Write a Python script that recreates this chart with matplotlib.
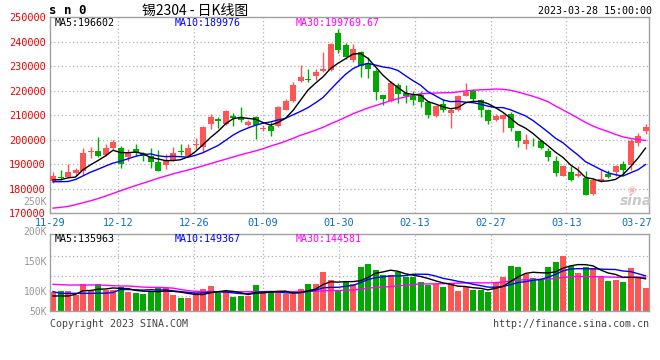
import numpy as np
import matplotlib
matplotlib.use('Agg')
import matplotlib.pyplot as plt
from matplotlib.transforms import blended_transform_factory, offset_copy

# ---------------- data ----------------
tick_idx = [0, 9, 19, 28, 38, 48, 58, 68, 78]
tick_labels = ['11-29', '12-12', '12-26', '01-09', '01-30', '02-13', '02-27', '03-13', '03-27']

opens = [182900, 184700, 184800, 186200, 187200, 194900, 195300, 193800, 196500, 196500,
         193000, 196100, 194500, 193400, 190700, 189600, 191500, 195400, 193200, 197700,
         196900, 206500, 208500, 206600, 209850, 209000, 206150, 209300, 204540, 205760,
         205760, 212310, 215860, 224040, 225000, 226090, 228130, 228540, 243820, 238640,
         232630, 236040, 231540, 228130, 218180, 215860, 222270, 219000, 217900, 218150,
         215430, 209560, 214470, 210930, 211950, 217880, 219790, 216110, 212020, 207990,
         208330, 210380, 203560, 198240, 199100, 199290, 195540, 191380, 185300, 186870,
         184970, 184420, 177870, 182920, 186060, 186600, 190080, 189740, 198600, 203380]
closes = [184990, 184400, 186900, 187450, 194670, 195100, 193240, 196450, 198900, 190030,
          194600, 194670, 193300, 190850, 187170, 191230, 194700, 194988, 196760, 198125,
          205082, 209450, 207673, 211902, 208764, 207880, 207264, 206173, 204946, 203445,
          213402, 215790, 222200, 225814, 224314, 227590, 228750, 238980, 236660, 233720,
          236930, 230110, 228880, 219470, 216470, 223150, 218720, 217700, 216250, 215430,
          209970, 213650, 211950, 212290, 217880, 219650, 216520, 212020, 207650, 209700,
          209970, 204650, 199470, 199750, 198880, 196560, 192740, 186470, 189060, 183600,
          186060, 177460, 183600, 184010, 184560, 189060, 187420, 199630, 201610, 205020]
highs = [186600, 187500, 190000, 188600, 196500, 197200, 201000, 198200, 199800, 197500,
         196100, 198400, 194800, 196500, 195700, 194100, 197000, 198400, 198400, 200700,
         205500, 210700, 209200, 212300, 210950, 213400, 208200, 209850, 206170, 207130,
         213950, 216680, 223630, 230450, 229090, 229090, 235900, 239450, 245180, 239450,
         239050, 236320, 233860, 228810, 218180, 224040, 223360, 222270, 220040, 219800,
         215770, 214060, 216650, 212770, 218360, 223200, 220610, 216520, 212430, 210380,
         210380, 211400, 203560, 202200, 200700, 200035, 196600, 193490, 189800, 189120,
         189120, 187080, 184350, 188030, 187760, 189800, 191170, 200300, 202760, 206450]
lows = [182200, 183600, 184500, 185200, 185600, 192700, 193000, 193400, 196100, 188600,
        191100, 193400, 191400, 188600, 187000, 187900, 191200, 193900, 192900, 196200,
        194800, 204500, 204800, 206200, 205500, 207100, 205500, 200450, 203450, 201670,
        205220, 212310, 215450, 223630, 223630, 224450, 227720, 228130, 235360, 233180,
        231820, 225810, 225400, 216270, 214080, 215450, 215180, 215180, 214180, 213300,
        209010, 209150, 211200, 204920, 211630, 217750, 215430, 209360, 206290, 207650,
        203150, 203560, 197010, 196330, 197600, 196216, 191440, 185300, 185030, 182980,
        184760, 177250, 177530, 182580, 184350, 185030, 186120, 187700, 197300, 202490]

# moving averages: first values, the rest from the closes
ma5_head = [183600, 183600, 184400, 184700]
ma10_head = [182800, 182800, 182900, 183700, 185200, 186700, 187900, 189200, 190400]
ma30_head = [172000, 172300, 172700, 173400, 174200, 175000, 175900, 176900, 178000, 179100,
             180200, 181200, 182200, 183200, 184200, 185100, 186000, 186800, 187600, 188400,
             189300, 190200, 191100, 192000, 192900, 193800, 194600, 195400, 196300]

# volume (thousands, on the panel's label scale)
vol_k = [98.9, 100, 100, 93, 111, 100, 111, 101.7, 101.7, 107,
         98.9, 96, 95, 100, 104.4, 104.4, 93.3, 88.9, 88.9, 96,
         103.3, 108.3, 97.2, 97.8, 90.6, 92.2, 92.2, 110, 98.9, 97.8,
         97.8, 94.4, 94.4, 103.3, 111.7, 111.7, 132.2, 118.3, 100, 115.6,
         112.2, 140, 145, 135, 126.7, 126.7, 131, 123.9, 123.9, 115.6,
         110, 111.7, 106.7, 111.7, 100, 107.2, 101.7, 101.7, 98.9, 112.8,
         123.9, 141.7, 140, 128.3, 122.2, 120, 140, 148.9, 158.9, 141.7,
         130.6, 139.4, 138.9, 125, 116.7, 118.3, 115, 138.9, 123.9, 105.6]
vma5_head = [91.7, 91.7, 91.7, 94.4]
vma10_head = [98.9, 96.1, 96.1, 96.1, 96.1, 96.1, 96.1, 96.5, 97.5]
vma30_head = [111.1, 110.6, 110, 110, 110, 110, 110, 109.5, 108.8, 108.3,
              108.3, 107.5, 106.5, 106.1, 106.1, 105.5, 104.8, 102.5, 100.6, 99.5,
              98.9, 98.9, 98.9, 98.9, 98.9, 98.8, 98.8, 98.9, 99.0]
vol_tick_k = [250, 200, 150, 100, 50]
vol_grid_k = [158.8, 125.6, 92.2]

header_main = ['MA5:196602', 'MA10:189976', 'MA30:199769.67']
header_vol = ['MA5:135963', 'MA10:149367', 'MA30:144581']


def moving(values, n, head):
    v = np.asarray(values, dtype=float)
    out = np.empty(len(v))
    out[:n - 1] = head
    for i in range(n - 1, len(v)):
        out[i] = v[i - n + 1:i + 1].mean()
    return out


RED = '#ff5555'
GREEN = '#00a800'
GRID = '#b0b0b0'
FRAME = '#a0a0a0'
MONO = 'DejaVu Sans Mono'

o = np.array(opens, float); c = np.array(closes, float)
h = np.array(highs, float); l = np.array(lows, float)
n = len(c)
x = np.arange(n)
up = c >= o
cols = [RED if u else GREEN for u in up]

W, H = 660, 360
fig = plt.figure(figsize=(W / 100, H / 100), dpi=100)
fig.patch.set_facecolor('white')


def fx(px):
    return px / W


def fy(py):
    return 1 - py / H


ax = fig.add_axes([fx(50), fy(213), 599 / W, 196 / H])
axv = fig.add_axes([fx(50), fy(311), 599 / W, 77 / H])
xmax = 599 / 7.5

for a in (ax, axv):
    a.set_xlim(0, xmax)
    for s in a.spines.values():
        s.set_color(FRAME)
        s.set_linewidth(1)
    a.set_xticks([])
    for i in tick_idx[1:-1]:
        a.axvline(i * 80 / 79, color=GRID, lw=0.9, ls=(0, (1, 2)), zorder=0)

# ---------------- main panel ----------------
ax.set_ylim(170000, 250200)
for yv in range(180000, 250000, 10000):
    ax.axhline(yv, color=GRID, lw=0.9, ls=(0, (1, 2)), zorder=0)
ax.set_yticks(np.arange(170000, 250001, 10000))
ax.set_yticklabels([str(v) for v in range(170000, 250001, 10000)],
                   color='#ee0000', fontsize=7.4, family=MONO)
ax.tick_params(axis='y', length=0, pad=3)

body_lo = np.minimum(o, c)
body_h = np.maximum(np.abs(c - o), 350)
ax.vlines(x + 0.4, l, h, colors=cols, lw=1, zorder=2)
ax.bar(x, body_h, bottom=body_lo, width=0.8, align='edge', color=cols, lw=0, zorder=3)

ma5 = moving(c, 5, ma5_head)
ma10 = moving(c, 10, ma10_head)
ma30 = moving(c, 30, ma30_head)
ax.plot(x + 0.4, ma30, color='#ff00ff', lw=1, zorder=4)
ax.plot(x + 0.4, ma10, color='#0000ff', lw=1, zorder=4)
ax.plot(x + 0.4, ma5, color='black', lw=1, zorder=5)

tr = blended_transform_factory(ax.transData, ax.transAxes)
for i, lab in zip(tick_idx[:-1], tick_labels[:-1]):
    ax.text(i * 80 / 79, -0.05, lab, transform=tr, ha='center', va='center',
            fontsize=7.4, family=MONO, color='#0a6ecc', clip_on=False)
ax.text(1.0, -0.05, tick_labels[-1],
        transform=offset_copy(ax.transAxes, fig=fig, x=2.5, y=0, units='dots'),
        ha='right', va='center', fontsize=7.4, family=MONO, color='#0a6ecc', clip_on=False)

# ---------------- volume panel ----------------
axv.set_ylim(66.67, 195)
axv.set_yticks([])
for gv in vol_grid_k:
    axv.axhline(gv, color=GRID, lw=0.9, ls=(0, (1, 2)), zorder=0)
axv.bar(x, vol_k, width=0.8, align='edge', color=cols, lw=0, zorder=2)
vma5 = moving(vol_k, 5, vma5_head)
vma10 = moving(vol_k, 10, vma10_head)
vma30 = moving(vol_k, 30, vma30_head)
axv.plot(x + 0.4, vma30, color='#ff00ff', lw=1, zorder=4)
axv.plot(x + 0.4, vma10, color='#0000ff', lw=1, zorder=4)
axv.plot(x + 0.4, vma5, color='black', lw=1, zorder=5)
trv = blended_transform_factory(axv.transAxes, axv.transData)
lo = axv.get_ylim()[0]
for tv in vol_tick_k:
    axv.text(-0.005, max(tv, lo), f'{tv}K', transform=offset_copy(trv, fig=fig, x=0, y=-1, units='dots'),
             ha='right', va='center', fontsize=7.0, family=MONO, color='#999999', clip_on=False)

# ---------------- texts ----------------
fig.text(fx(49), fy(11), 's n 0', fontsize=9, fontweight='bold', family=MONO,
         ha='left', va='center')
fig.text(fx(142), fy(11), '锡2304 - 日K线图', fontsize=10,
         family=['Noto Sans CJK SC', 'DejaVu Sans'], ha='left', va='center')
fig.text(fx(652), fy(11), '2023-03-28 15:00:00', fontsize=7.2, family=MONO,
         ha='right', va='center')

hcols = ['black', '#0000ff', '#ff00ff']
hx = [55, 175, 296]
for t, cc, px in zip(header_main, hcols, hx):
    fig.text(fx(px), fy(23), t, color=cc, fontsize=7.2, family=MONO, ha='left', va='center')
for t, cc, px in zip(header_vol, hcols, hx):
    fig.text(fx(px), fy(239), t, color=cc, fontsize=7.2, family=MONO, ha='left', va='center')

fig.text(fx(50), fy(324), 'Copyright 2023 SINA.COM', fontsize=7.2, family=MONO,
         color='#444444', ha='left', va='center')
fig.text(fx(649), fy(324), 'http://finance.sina.com.cn', fontsize=7.2, family=MONO,
         color='#444444', ha='right', va='center')

# sina watermark
fig.text(fx(636), fy(201), 'sina', fontsize=10, fontweight='bold', style='italic',
         color='#c8c8c8', ha='center', va='center')
fig.text(fx(632), fy(190), '◉', fontsize=7, color='#f0b8b8',
         ha='center', va='center')

fig.savefig('out.png', dpi=100, facecolor='white')
